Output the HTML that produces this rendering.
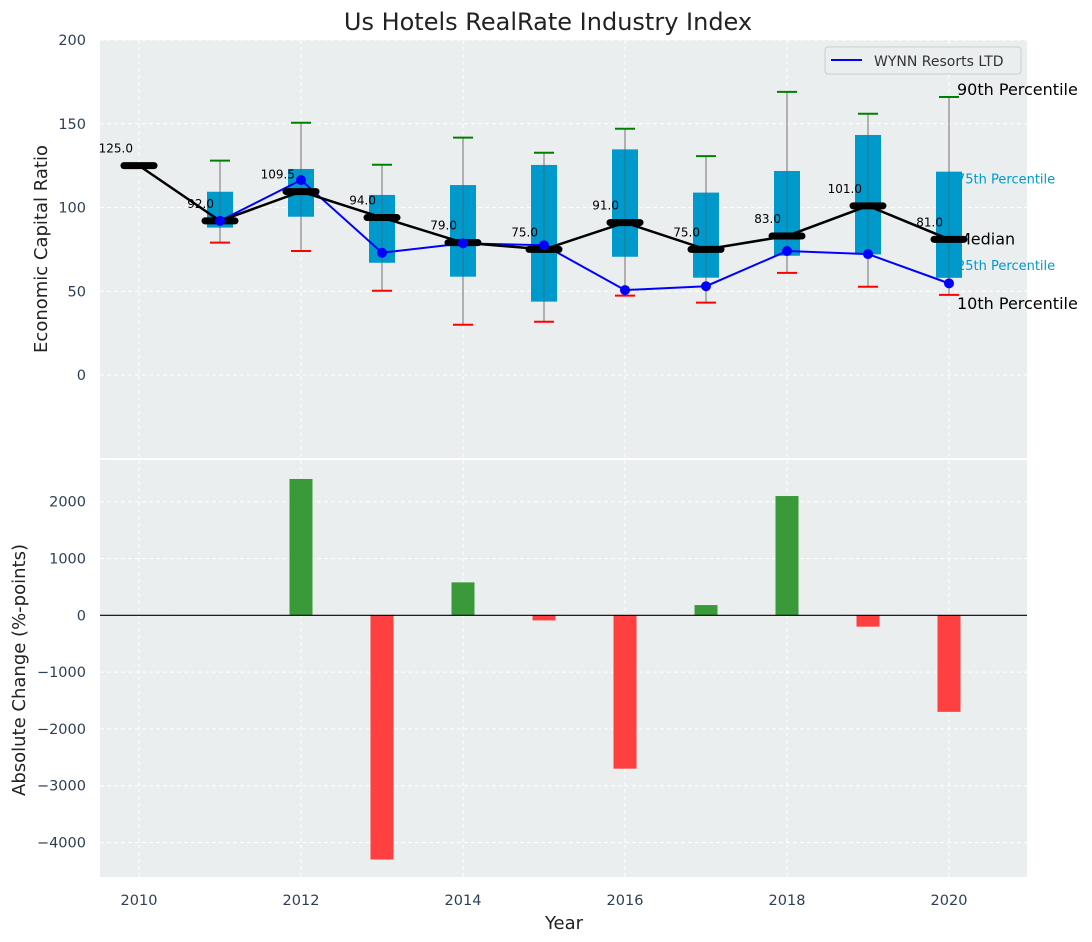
<!DOCTYPE html>
<html><head><meta charset="utf-8"><style>
body{margin:0;background:#fff;}
svg{display:block;font-family:"DejaVu Sans","Liberation Sans",sans-serif;}
</style></head><body>
<svg id="chart" width="1092" height="942" xmlns="http://www.w3.org/2000/svg">
<rect width="1092" height="942" fill="#fff"/>
<text x="548" y="30" font-size="24" text-anchor="middle" fill="#222">Us Hotels RealRate Industry Index</text>
<rect x="100" y="40" width="927" height="418" fill="#ebeeef"/>
<rect x="100" y="460" width="927" height="417" fill="#ebeeef"/>
<g id="grid"></g>
<g id="annots"></g>
<g id="top"></g>
<g id="bottom"></g>
<g id="axes"></g>
<g>
<rect x="825" y="47" width="196" height="27" rx="3" fill="#ebeeef" stroke="#ccc"/>
<line x1="831" y1="60" x2="862" y2="60" stroke="#0000ff" stroke-width="2"/>
<text x="874" y="66" font-size="14" fill="#333">WYNN Resorts LTD</text>
</g>
<text transform="translate(47,249) rotate(-90)" font-size="18" text-anchor="middle" fill="#222">Economic Capital Ratio</text>
<text transform="translate(25,670) rotate(-90)" font-size="18" text-anchor="middle" fill="#222">Absolute Change (%-points)</text>
<text x="564" y="929" font-size="18" text-anchor="middle" fill="#222">Year</text>
</svg>
<script>
const years=[2010,2011,2012,2013,2014,2015,2016,2017,2018,2019,2020];
const medians=[125,92,109.5,94,79,75,91,75,83,101,81];
const p90=[null,128,150.6,125.5,141.7,132.7,147,130.7,169,156,166];
const p75=[null,109.4,123,107.5,113.4,125.4,134.7,108.9,121.8,143.3,121.4];
const p25=[null,88,94.5,67,58.7,43.8,70.6,58.1,71.2,72,58];
const p10=[null,79,74,50.3,30,31.8,47.4,43.2,61,52.7,47.8];
const wynn=[null,92,116.4,73,78.6,77.5,50.7,53,74,72.2,54.7];
const changes=[0,2400,-4300,580,-90,-2700,180,2100,-200,-1700];
const changeYears=[2011,2012,2013,2014,2015,2016,2017,2018,2019,2020];
const topTicks=[0,50,100,150,200];
const botTicks=[-4000,-3000,-2000,-1000,0,1000,2000];
const xTicks=[2010,2012,2014,2016,2018,2020];
const NS="http://www.w3.org/2000/svg";
const X=y=>139+(y-2010)*81;
const YT=v=>375-v*1.675;
const YB=v=>615.3-v*0.0568;
function mk(p,t,a){const e=document.createElementNS(NS,t);for(const k in a)e.setAttribute(k,a[k]);p.appendChild(e);return e;}
const grid=document.getElementById('grid'),axes=document.getElementById('axes'),top_=document.getElementById('top'),bot=document.getElementById('bottom'),ann=document.getElementById('annots');
const gs={stroke:"#fff","stroke-width":1,"stroke-dasharray":"4,3"};
xTicks.forEach(t=>{
 let l=mk(grid,'line',Object.assign({x1:X(t),x2:X(t),y1:40,y2:458},gs));
 
 l=mk(grid,'line',Object.assign({x1:X(t),x2:X(t),y1:460,y2:877},gs));
 
 const tx=mk(axes,'text',{x:X(t),y:905,"font-size":14.5,"text-anchor":"middle",fill:"#2e3f55"});tx.textContent=t;
 
});
topTicks.forEach(t=>{
 let l=mk(grid,'line',Object.assign({x1:100,x2:1027,y1:YT(t),y2:YT(t)},gs));
 
 const tx=mk(axes,'text',{x:86,y:YT(t)+5,"font-size":14.5,"text-anchor":"end",fill:"#2e3f55"});tx.textContent=t;
 
});
botTicks.forEach(t=>{
 let l=mk(grid,'line',Object.assign({x1:100,x2:1027,y1:YB(t),y2:YB(t)},gs));
 
 const tx=mk(axes,'text',{x:86,y:YB(t)+5,"font-size":14.5,"text-anchor":"end",fill:"#2e3f55"});tx.textContent=(t<0?'\u2212'+(-t):t);
 
});
const last=years.length-1,lx=X(years[last])+8;
[["90th Percentile",p90[last],16,"#000",-2],["75th Percentile",p75[last],13,"#0099cc",12],["Median",medians[last],16,"#000",5],["25th Percentile",p25[last],13,"#0099cc",-8],["10th Percentile",p10[last],16,"#000",14]].forEach(a=>{
 const t=mk(ann,'text',{x:lx,y:YT(a[1])+a[4],"font-size":a[2],fill:a[3]});t.textContent=a[0];
 
});
years.forEach((yr,i)=>{
 const x=X(yr);
 if(p90[i]!==null){
  const w=mk(top_,'line',{x1:x,x2:x,y1:YT(p90[i]),y2:YT(p10[i]),stroke:"#888","stroke-width":1.2});
  
  const b=mk(top_,'rect',{x:x-13,y:YT(p75[i]),width:26,height:YT(p25[i])-YT(p75[i]),fill:"#0099cc"});
  
  const w2=mk(top_,'line',{x1:x,x2:x,y1:YT(p75[i]),y2:YT(p25[i]),stroke:"#555","stroke-width":1,"stroke-opacity":0.5});
  
  const c1=mk(top_,'line',{x1:x-10,x2:x+10,y1:YT(p90[i]),y2:YT(p90[i]),stroke:"#008000","stroke-width":2});
  
  const c2=mk(top_,'line',{x1:x-10,x2:x+10,y1:YT(p10[i]),y2:YT(p10[i]),stroke:"#ff0000","stroke-width":2});
  
 }
});
const wp=years.map((y,i)=>wynn[i]===null?null:X(y)+','+YT(wynn[i])).filter(Boolean).join(' ');
const wl=mk(top_,'polyline',{points:wp,fill:"none",stroke:"#0000ff","stroke-width":2});

const mp=years.map((y,i)=>X(y)+','+YT(medians[i])).join(' ');
const ml=mk(top_,'polyline',{points:mp,fill:"none",stroke:"#000","stroke-width":2.5});

years.forEach((yr,i)=>{
 const x=X(yr),y=YT(medians[i]);
 const m=mk(top_,'line',{x1:x-15,x2:x+15,y1:y,y2:y,stroke:"#000","stroke-width":7,"stroke-linecap":"round"});
 
 if(wynn[i]!==null){const d=mk(top_,'circle',{cx:x,cy:YT(wynn[i]),r:5,fill:"#0000ff"});
  }
 const t=mk(top_,'text',{x:x-6,y:y-13,"font-size":12,"text-anchor":"end",fill:"#000"});t.textContent=medians[i].toFixed(1);
 
});
changeYears.forEach((yr,i)=>{
 const v=changes[i];if(v===0)return;
 const y0=YB(0),y1=YB(v);
 const r=mk(bot,'rect',{x:X(yr)-11.5,y:Math.min(y0,y1),width:23,height:Math.abs(y1-y0),fill:v>0?"#3a9a3a":"#ff4040"});
 
});
const z=mk(bot,'line',{x1:100,x2:1027,y1:YB(0),y2:YB(0),stroke:"#000","stroke-width":1.2});

</script>
</body></html>
